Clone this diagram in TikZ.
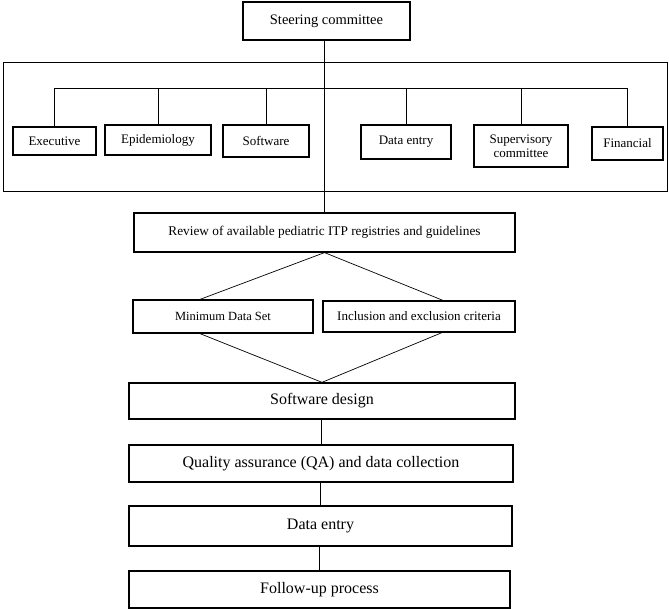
\documentclass[tikz,border=0pt]{standalone}
\usepackage{fontspec}
\setmainfont{Liberation Serif}
\usepackage{tikz}
\usetikzlibrary{positioning}

\tikzset{
    box/.style={draw, line width=1.4pt, inner sep=0pt, align=center},
    unit/.style={box, font=\fontsize{13}{14}\selectfont},
    stage/.style={box, line width=1.3pt, font=\fontsize{16}{18}\selectfont},
    link/.style={line width=0.7pt}
}

\begin{document}
\begin{tikzpicture}[x=1pt, y=-1pt]
    \useasboundingbox (0,0) rectangle (669,609);

    % steering committee and its units
    \node[box, font=\fontsize{14.5}{16}\selectfont, minimum width=167, minimum height=38] (steer) at (326.5,21) {Steering committee};
    \draw[line width=1pt] (3,63) rectangle (667,192);

    \node[unit, minimum width=83, minimum height=28] (exe) at (54.5,141) {Executive};
    \node[unit, minimum width=106, minimum height=30] (epi) at (158,140) {Epidemiology};
    \node[unit, minimum width=86, minimum height=32] (soft) at (266,141) {Software};
    \node[unit, minimum width=90, minimum height=34] (dent) at (406,142) {Data entry};
    \node[unit, minimum width=94, minimum height=42] (sup) at (521,146) {Supervisory\\committee};
    \node[unit, minimum width=71, minimum height=33] (fin) at (627.5,143.5) {Financial};

    \coordinate (bus) at (0,88);
    \draw[link] (exe.north) -- (exe.north |- bus) -- (fin.north |- bus) -- (fin.north);
    \foreach \u in {epi, soft, dent, sup}
        \draw[link] (\u.north) -- (\u.north |- bus);

    % review and the two outputs
    \node[box, line width=1.2pt, font=\fontsize{13.3}{15}\selectfont, minimum width=381, minimum height=39] (review) at (324.5,232.5) {Review of available pediatric ITP registries and guidelines};
    \draw[link] (review.north) -- (review.north |- steer.south);

    \node[box, line width=1.2pt, font=\fontsize{12.5}{14}\selectfont, minimum width=180, minimum height=33] (mds) at (223,316.5) {Minimum Data Set};
    \node[box, line width=1.2pt, font=\fontsize{13}{14}\selectfont, minimum width=192, minimum height=31] (incl) at (419,316.5) {Inclusion and exclusion criteria};

    % process steps
    \node[stage, minimum width=386, minimum height=36] (design) at (322,401) {Software design};
    \node[stage, minimum width=384, minimum height=37] (qa) at (321,463.5) {Quality assurance (QA) and data collection};
    \node[stage, minimum width=383, minimum height=40] (entry) at (320.5,526) {Data entry};
    \node[stage, minimum width=381, minimum height=37] (follow) at (319.5,589.5) {Follow-up process};

    \draw[link] ([xshift=-23pt]mds.north) -- (review.south) -- ([xshift=24pt]incl.north);
    \draw[link] ([xshift=-23pt]mds.south) -- (design.north) -- ([xshift=23pt]incl.south);
    \draw[link] (qa.north) -- (qa.north |- design.south);
    \draw[link] (entry.north) -- (entry.north |- qa.south);
    \draw[link] (follow.north) -- (follow.north |- entry.south);
\end{tikzpicture}
\end{document}
